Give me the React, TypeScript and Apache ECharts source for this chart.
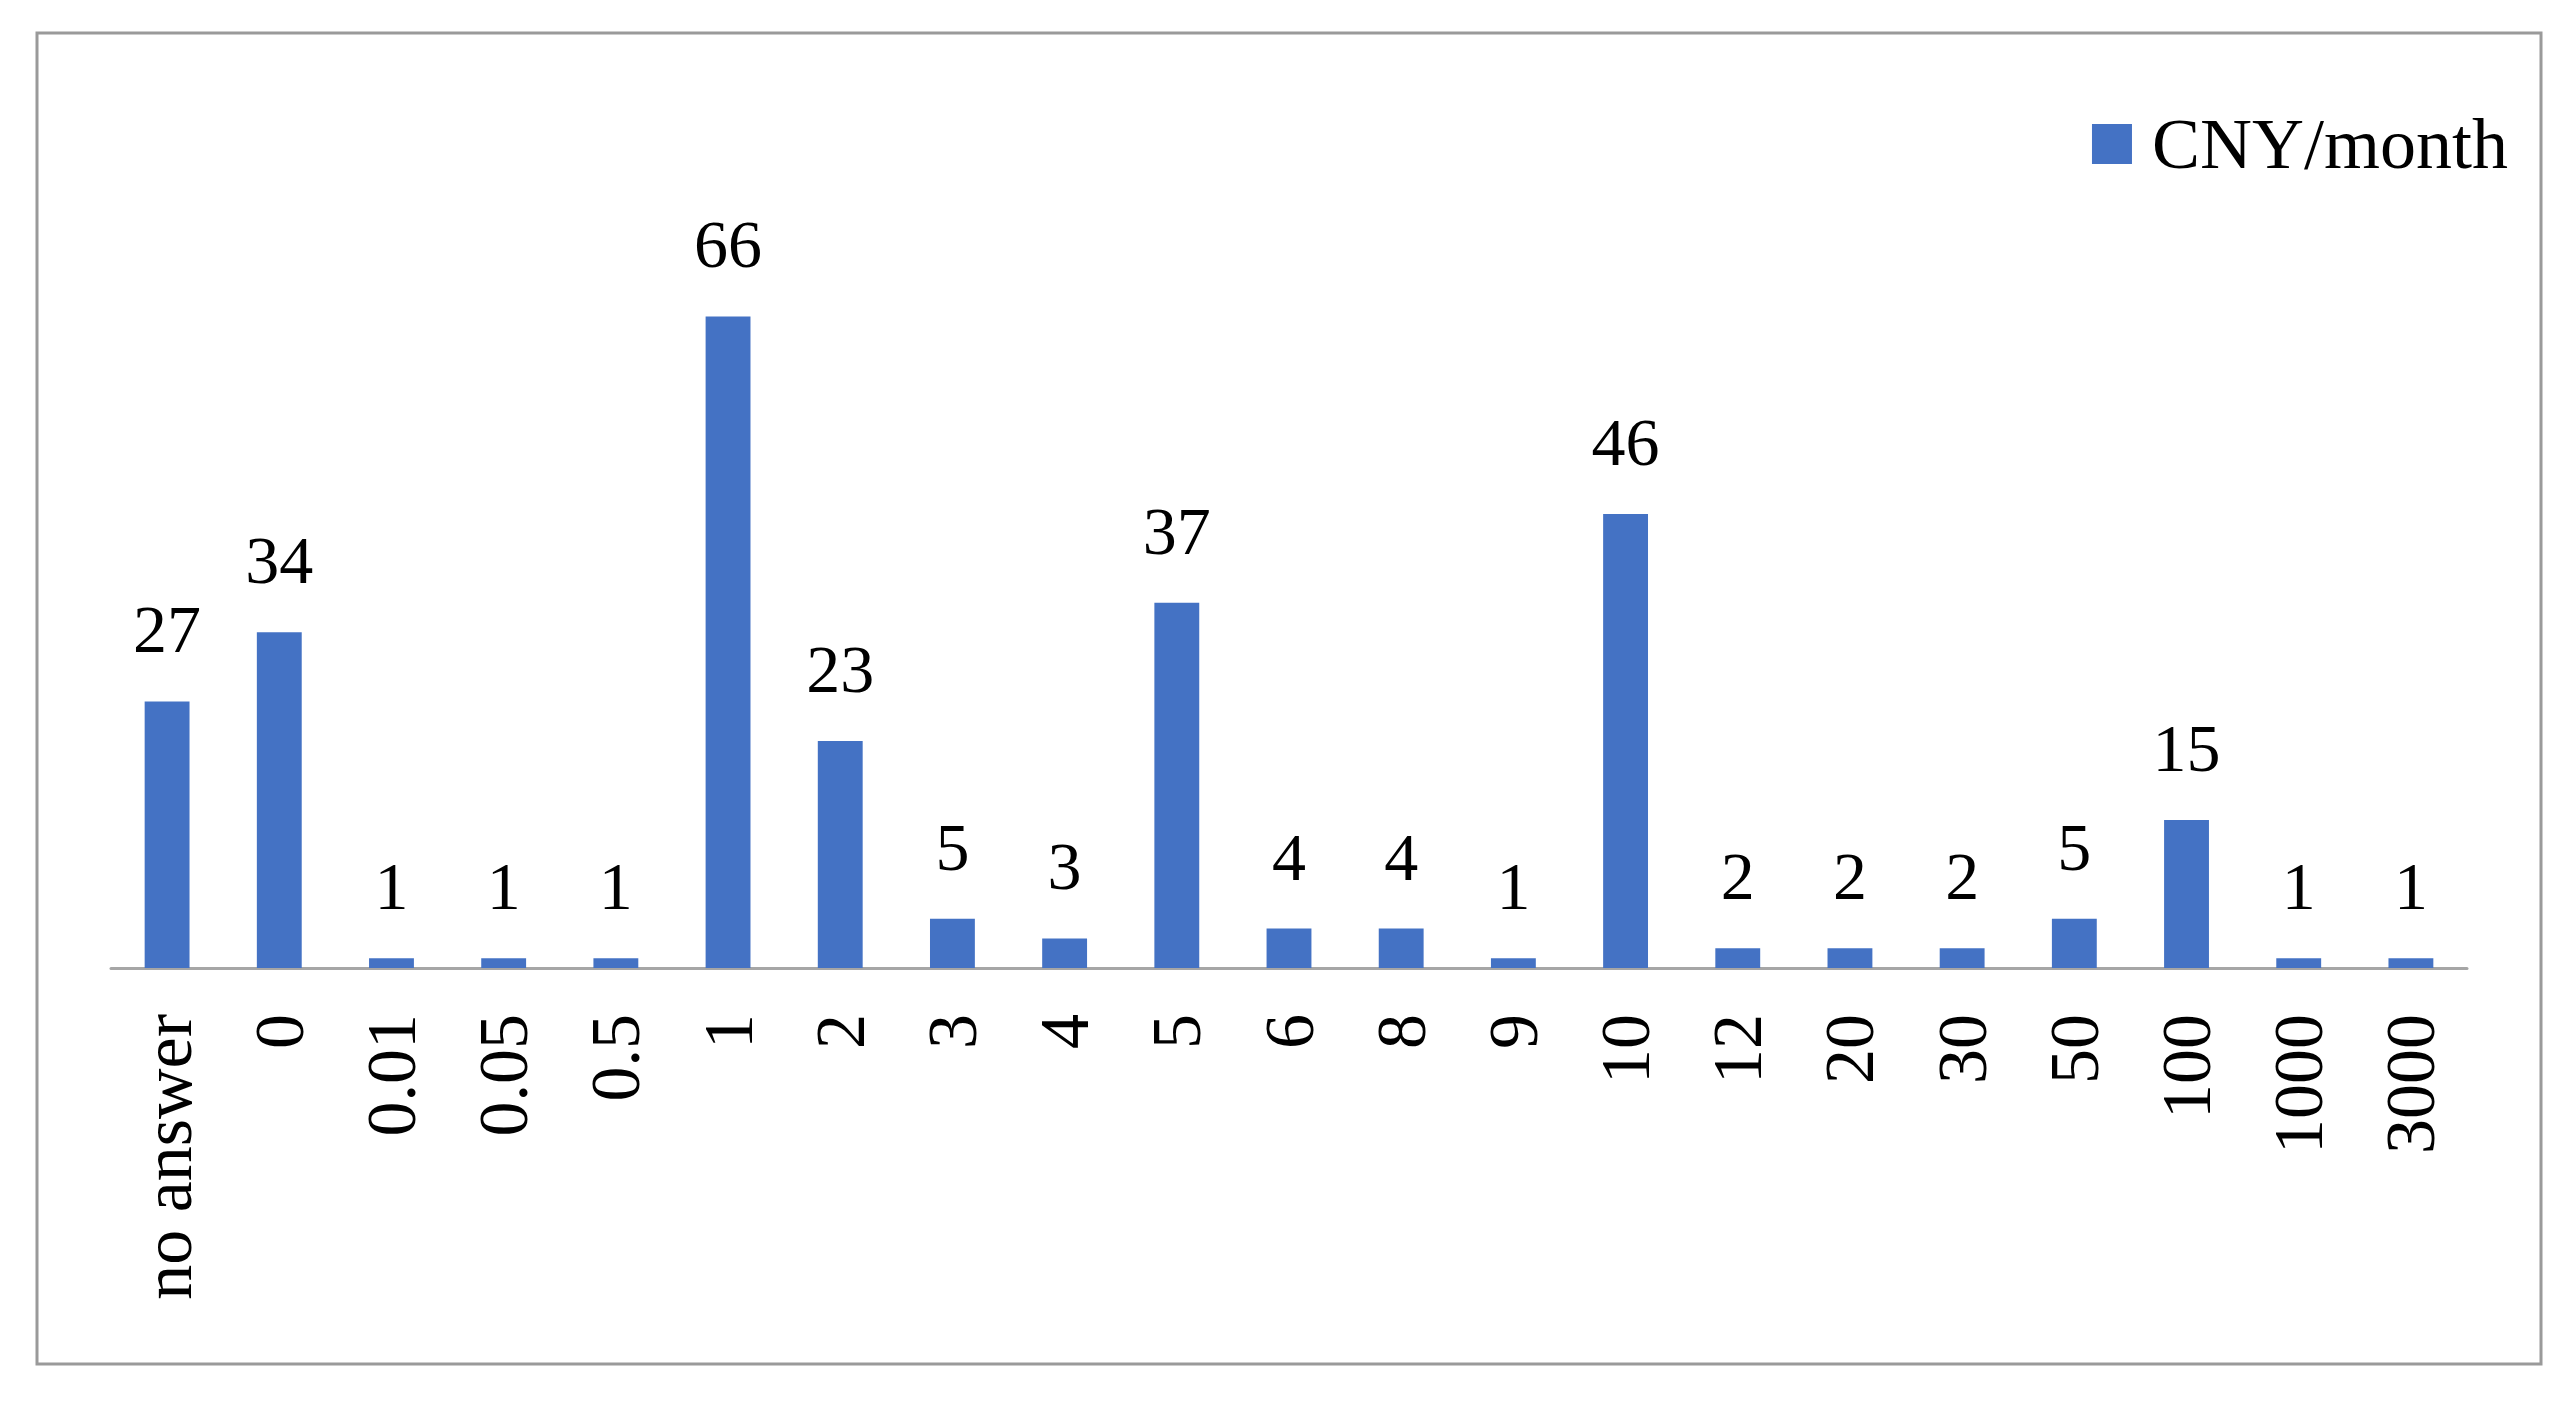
import React, { useEffect, useRef } from "react";
import * as echarts from "echarts";

const categories = ["no answer", "0", "0.01", "0.05", "0.5", "1", "2", "3", "4", "5", "6", "8", "9", "10", "12", "20", "30", "50", "100", "1000", "3000"];
const values = [27, 34, 1, 1, 1, 66, 23, 5, 3, 37, 4, 4, 1, 46, 2, 2, 2, 5, 15, 1, 1];
const seriesName = "CNY/month";

const FONT = "Liberation Serif";

export default function App() {
  const ref = useRef<HTMLDivElement>(null);
  useEffect(() => {
    if (!ref.current) return;
    const chart = echarts.init(ref.current, null, { renderer: "svg" });
    chart.setOption({
      animation: false,
      backgroundColor: "#ffffff",
      textStyle: { fontFamily: FONT, color: "#000" },
      graphic: [
        {
          type: "rect",
          shape: { x: 37, y: 33, width: 2504, height: 1331 },
          style: { fill: "none", stroke: "#9a9a9a", lineWidth: 3 },
          silent: true,
        },
      ],
      legend: {
        show: true,
        right: 60,
        top: 103,
        itemWidth: 40,
        itemHeight: 40,
        itemGap: 20,
        icon: "rect",
        textStyle: { fontFamily: FONT, fontSize: 72, color: "#000", padding: [0, 0, 0, 15] },
        data: [seriesName],
      },
      grid: { left: 111, right: 106, top: 277, bottom: 434, containLabel: false },
      xAxis: {
        type: "category",
        data: categories,
        axisLine: { show: true, lineStyle: { color: "#a6a6a6", width: 3 } },
        axisTick: { show: false },
        axisLabel: {
          rotate: 90,
          margin: 46,
          interval: 0,
          fontFamily: FONT,
          fontSize: 70,
          color: "#000",
        },
      },
      yAxis: {
        type: "value",
        min: 0,
        max: 70,
        show: false,
        splitLine: { show: false },
      },
      series: [
        {
          name: seriesName,
          type: "bar",
          data: values,
          barWidth: "40%",
          itemStyle: { color: "#4472C4" },
          label: {
            show: true,
            position: "top",
            distance: 38,
            fontFamily: FONT,
            fontSize: 68,
            color: "#000",
          },
        },
      ],
    });
    return () => chart.dispose();
  }, []);
  return (
    <div
      ref={ref}
      style={{ position: "fixed", left: 0, top: 0, width: 2573, height: 1402, background: "#fff" }}
    />
  );
}
